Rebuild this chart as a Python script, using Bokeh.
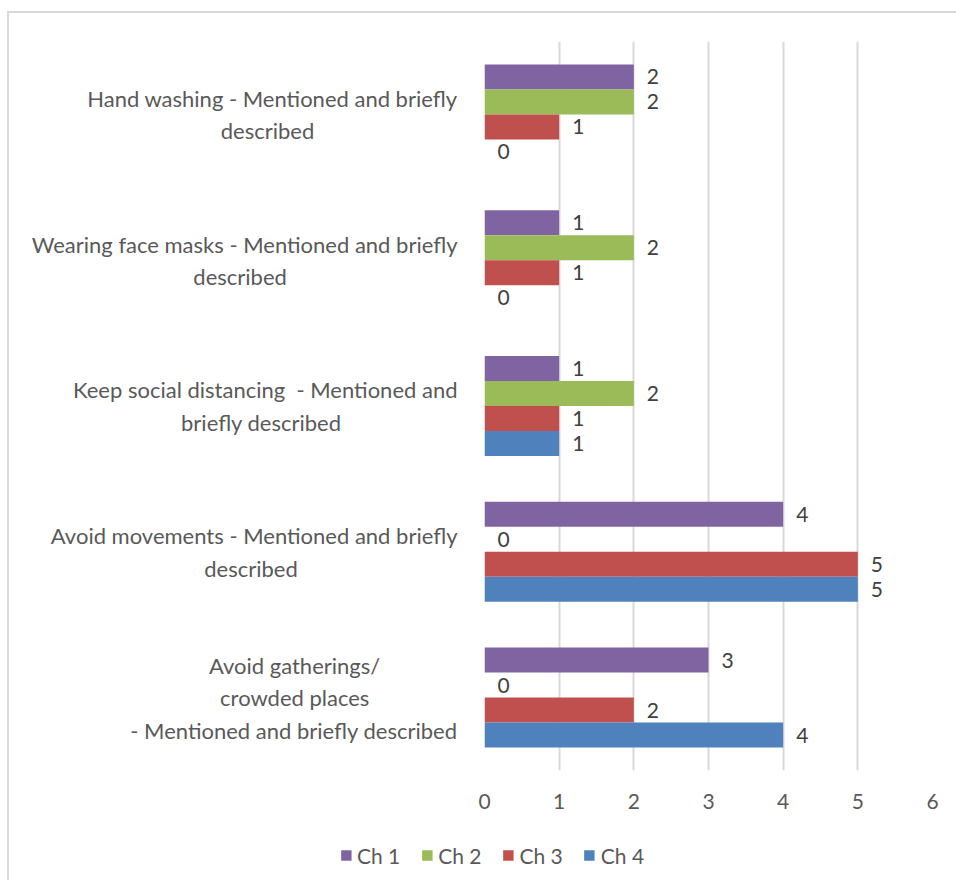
from bokeh.plotting import figure
from bokeh.layouts import column
from bokeh.models import FactorRange, Legend, LegendItem, ColumnDataSource
from bokeh.transform import dodge
from bokeh.core.properties import value
from bokeh.embed import file_html
from bokeh.resources import INLINE

categories = [
    "Hand washing - Mentioned and briefly\ndescribed",
    "Wearing face masks - Mentioned and briefly\ndescribed",
    "Keep social distancing  - Mentioned and\nbriefly described",
    "Avoid movements - Mentioned and briefly\ndescribed",
    "Avoid gatherings/\ncrowded places\n- Mentioned and briefly described",
]
series = ["Ch 1", "Ch 2", "Ch 3", "Ch 4"]
ch1 = [2, 1, 1, 4, 3]
ch2 = [2, 2, 2, 0, 0]
ch3 = [1, 1, 1, 5, 2]
ch4 = [0, 0, 1, 5, 4]
x_ticks = [0, 1, 2, 3, 4, 5, 6]
colors = ["#8064A2", "#9BBB59", "#C0504D", "#4F81BD"]

FONT = "Lato"
CAT_FS = "22px"
FS = "21px"

# trailing padding (px) per line so that the lines of each right-aligned label look centred
line_pads = [[0, 140], [0, 168], [0, 112], [0, 158], [74, 86, 0]]


def pad(px):
    em = int(px // 16.5)
    nb = int(round((px - em * 16.5) / 5))
    return "\u2003" * em + "\u00a0" * nb


labels = ["\n".join(l.replace("  ", " \u00a0") + pad(pd) for l, pd in zip(cat.split("\n"), pads))
          for cat, pads in zip(categories, line_pads)]

src = ColumnDataSource(dict(cat=labels, s0=ch1, s1=ch2, s2=ch3, s3=ch4,
                            l0=[str(v) for v in ch1], l1=[str(v) for v in ch2],
                            l2=[str(v) for v in ch3], l3=[str(v) for v in ch4]))

p = figure(y_range=FactorRange(factors=labels[::-1]), x_range=(0, 6),
           width=947, height=817, output_backend="svg", toolbar_location=None,
           min_border_left=475, min_border_right=24, min_border_top=28,
           min_border_bottom=60)
p.outline_line_color = None
p.background_fill_color = "white"
p.border_fill_color = "white"

h = 0.1715
for i, s in enumerate(series):
    off = (1.5 - i) * h
    p.hbar(y=dodge("cat", off, range=p.y_range), left=0, right=f"s{i}", height=h,
           source=src, fill_color=colors[i], line_color=None)
    p.text(x=f"s{i}", y=dodge("cat", off, range=p.y_range), text=f"l{i}", source=src,
           x_offset=13, text_align="left", text_baseline="middle",
           text_font=value(FONT), text_font_size=FS, text_color="#404040")

p.xaxis.ticker = x_ticks
p.xgrid.ticker = x_ticks
p.xgrid.grid_line_color = "#d9d9d9"
p.xgrid.grid_line_width = 2
p.ygrid.grid_line_color = None
for ax in (p.xaxis, p.yaxis):
    ax.axis_line_color = None
    ax.major_tick_line_color = None
    ax.minor_tick_line_color = None
    ax.major_label_text_font = FONT
    ax.major_label_text_color = "#595959"
p.xaxis.major_label_text_font_size = FS
p.yaxis.major_label_text_font_size = CAT_FS
p.xaxis.major_label_standoff = 17
p.yaxis.major_label_standoff = 21

# legend strip below the chart (its bars lie outside its visible ranges)
leg_src = ColumnDataSource(dict(y=list(range(len(ch1))), s0=ch1, s1=ch2, s2=ch3, s3=ch4))
leg = figure(width=947, height=50, output_backend="svg", toolbar_location=None,
             x_axis_type=None, y_axis_type=None, x_range=(100, 101), y_range=(100, 101),
             min_border=0, min_border_left=18)
if "frame_align" in leg.properties():
    leg.frame_align = False
leg.outline_line_color = None
leg.xgrid.grid_line_color = None
leg.ygrid.grid_line_color = None
items = []
for i, s in enumerate(series):
    r = leg.hbar(y="y", left=0, right=f"s{i}", height=h, source=leg_src,
                 fill_color=colors[i], line_color=None)
    items.append(LegendItem(label=s, renderers=[r]))
legend = Legend(items=items, orientation="horizontal", location="center",
                glyph_width=13, glyph_height=13, label_standoff=5, spacing=20,
                label_text_font=FONT, label_text_font_size=FS,
                label_text_color="#595959", border_line_color=None,
                background_fill_alpha=0, margin=0, padding=0)
leg.add_layout(legend, "center")

layout = column(p, leg, styles={"margin-left": "7px", "margin-top": "11px",
                                "border-left": "2px solid #d9d9d9",
                                "border-top": "2px solid #d9d9d9"})

open("out.html", "w").write(file_html(layout, INLINE))
